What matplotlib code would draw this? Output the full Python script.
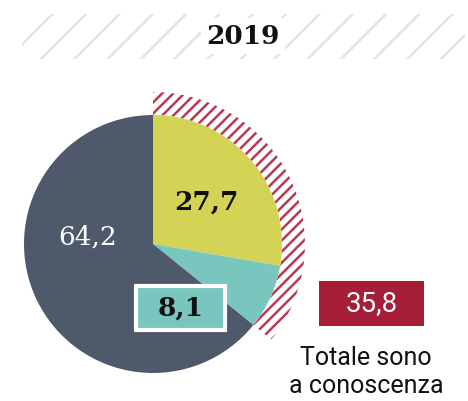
import matplotlib
matplotlib.use("Agg")
import matplotlib.pyplot as plt
from matplotlib.patches import Rectangle

# Data
title = "2019"
slice_labels = ["27,7", "8,1", "64,2"]
slice_values = [27.7, 8.1, 64.2]
slice_colors = ["#d3d356", "#78c6bd", "#4e5a6b"]
known_total = 35.8
known_label = "35,8"
known_text = "Totale sono\na conoscenza"

W, H = 468, 401
plt.rcParams['hatch.linewidth'] = 1.8
fig = plt.figure(figsize=(W / 100, H / 100), dpi=100)
ax = fig.add_axes([0, 0, 1, 1])
ax.set_xlim(0, W)
ax.set_ylim(0, H)
ax.set_aspect('equal')
ax.axis('off')

# title band
band = Rectangle((22, H - 59), 443, 45, facecolor='white', edgecolor='#e4e4e4',
                 hatch='/', linewidth=0)
ax.add_patch(band)
ax.text(243, H - 36, title, ha='center', va='center', fontsize=19,
        fontweight='bold', family='DejaVu Serif', color='#111111',
        bbox=dict(facecolor='white', edgecolor='none', pad=4))

cx, cy, r = 153, H - 244, 129

# hatched ring for known total
wedges, _ = ax.pie([known_total, 100 - known_total], radius=r + 23, center=(cx, cy),
                   startangle=90, counterclock=False,
                   wedgeprops=dict(width=23, linewidth=0))
wedges[0].set_facecolor('white')
wedges[0].set_edgecolor('#b83a52')
wedges[0].set_hatch('///')
wedges[1].set_visible(False)

ax.pie(slice_values, radius=r, center=(cx, cy), startangle=90, counterclock=False,
       colors=slice_colors, wedgeprops=dict(linewidth=0))
ax.set_xlim(0, W)
ax.set_ylim(0, H)

ax.text(206, H - 202, slice_labels[0], ha='center', va='center', fontsize=19,
        fontweight='bold', family='DejaVu Serif', color='#111111')
ax.add_patch(Rectangle((136, H - 330), 89, 44, facecolor=slice_colors[1],
                       edgecolor='white', linewidth=3))
ax.text(180.5, H - 308, slice_labels[1], ha='center', va='center', fontsize=19,
        fontweight='bold', family='DejaVu Serif', color='#111111')
ax.text(88, H - 237, slice_labels[2], ha='center', va='center', fontsize=19,
        family='DejaVu Serif', color='white')

ax.add_patch(Rectangle((319, H - 326), 105, 45, facecolor='#a51d37', edgecolor='none'))
ax.text(371.5, H - 303.5, known_label, ha='center', va='center', fontsize=20,
        family='Roboto', color='white')
ax.text(366, H - 372, known_text, ha='center', va='center', fontsize=18,
        family='Roboto', color='#111111', linespacing=1.2)

fig.savefig('out.png', dpi=100)
